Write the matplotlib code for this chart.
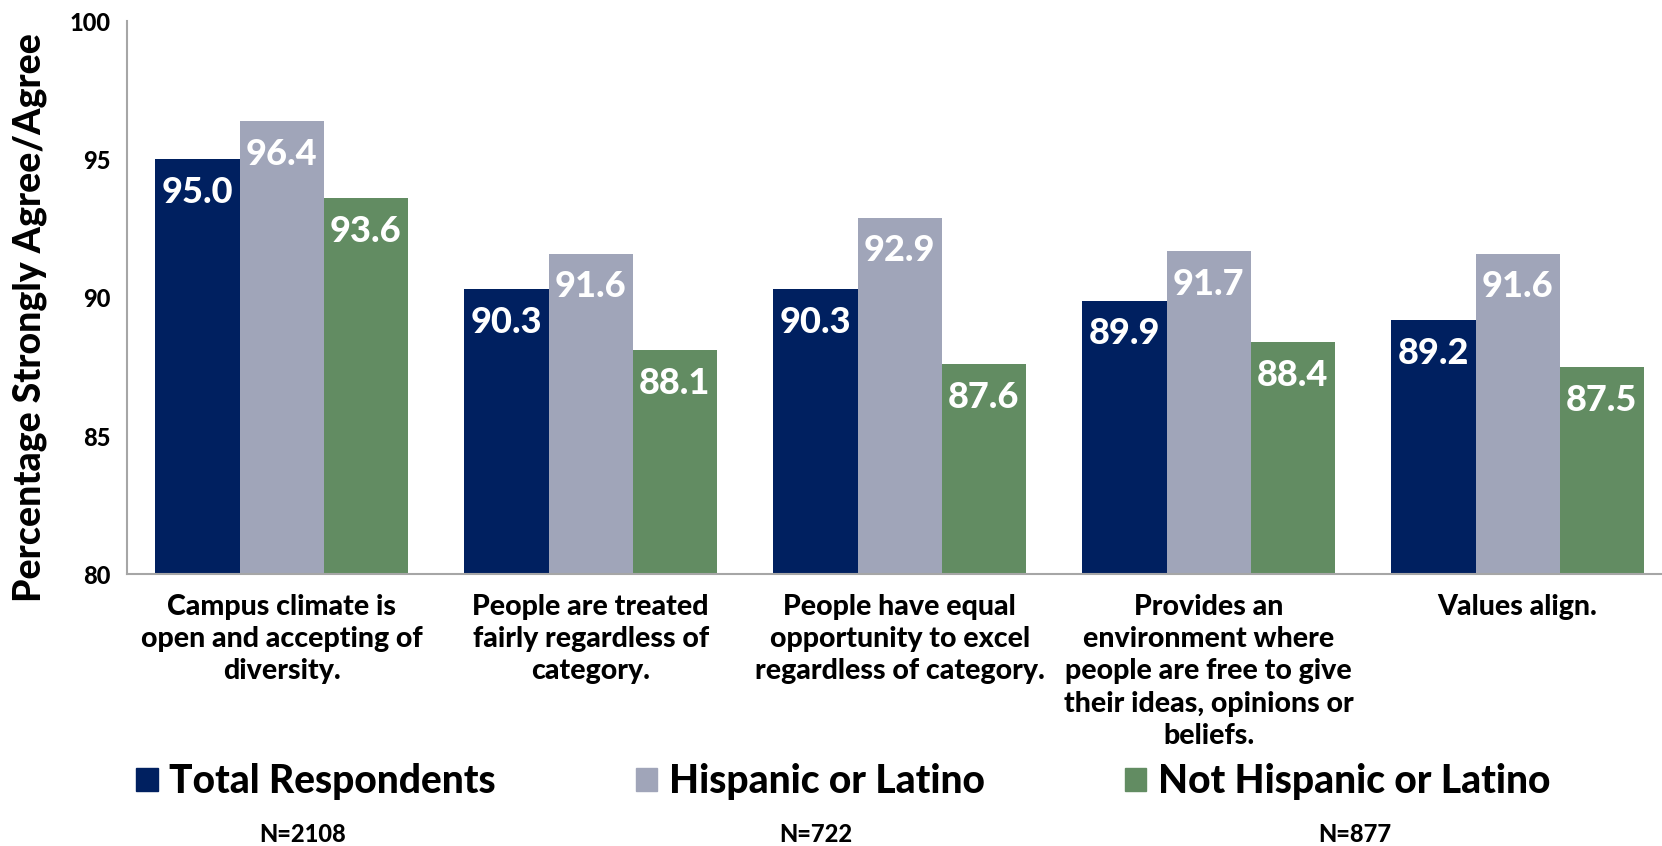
import matplotlib.pyplot as plt
import numpy as np
from matplotlib.patches import Patch

plt.rcParams['font.family'] = ['Lato', 'DejaVu Sans']
plt.rcParams['font.weight'] = 'black'

# survey items and group results
categories = ['Campus climate is\nopen and accepting of\ndiversity.',
              'People are treated\nfairly regardless of\ncategory.',
              'People have equal\nopportunity to excel\nregardless of category.',
              'Provides an\nenvironment where\npeople are free to give\ntheir ideas, opinions or\nbeliefs.',
              'Values align.']
series_names = ['Total Respondents', 'Hispanic or Latino', 'Not Hispanic or Latino']
total = [95.0, 90.3, 90.3, 89.9, 89.2]
hispanic = [96.4, 91.6, 92.9, 91.7, 91.6]
not_hispanic = [93.6, 88.1, 87.6, 88.4, 87.5]
n_labels = ['N=2108', 'N=722', 'N=877']
colors = ['#002060', '#A0A5B9', '#628C62']

fig = plt.figure(figsize=(16.62, 8.46), dpi=100)
ax = fig.add_axes([0.0765, 0.321, 0.9296, 0.654])

x = np.arange(len(categories))
w = 0.2727
for i, vals in enumerate([total, hispanic, not_hispanic]):
    bars = ax.bar(x + (i - 1) * w, vals, w, color=colors[i], label=series_names[i])
    for b, v in zip(bars, vals):
        ax.annotate(f'{v:.1f}', (b.get_x() + b.get_width() / 2, v),
                    xytext=(0, -24), textcoords='offset points',
                    ha='center', va='center', color='white',
                    fontsize=26, fontweight='black')

ax.set_xlim(-0.5, 4.5)
ax.set_ylim(80, 100)
ax.set_yticks([80, 85, 90, 95, 100])
ax.tick_params(axis='y', length=0, labelsize=17, pad=12)
ax.tick_params(axis='x', length=0, labelsize=20.5, pad=14)
ax.set_xticks(x)
ax.set_xticklabels(categories, linespacing=1.3)
for s in ['top', 'right']:
    ax.spines[s].set_visible(False)
for s in ['left', 'bottom']:
    ax.spines[s].set_color('#A6A6A6')
    ax.spines[s].set_linewidth(1.5)
ax.set_ylabel('Percentage Strongly Agree/Agree', fontsize=27, fontweight='black',
              ha='center', va='center')
ax.yaxis.set_label_coords(-0.063, 0.465)

handles = [Patch(color=c) for c in colors]
fig.legend(handles, series_names, ncol=3, loc='center left',
           bbox_to_anchor=(0.061, 0.076), frameon=False, fontsize=28,
           handlelength=0.55, handleheight=0.55, handletextpad=0.3,
           columnspacing=3.6)

for xpos, t in zip([0.182, 0.491, 0.815], n_labels):
    fig.text(xpos, 0.014, t, ha='center', va='center', fontsize=17, fontweight='black')

fig.savefig('out.png', dpi=100)
